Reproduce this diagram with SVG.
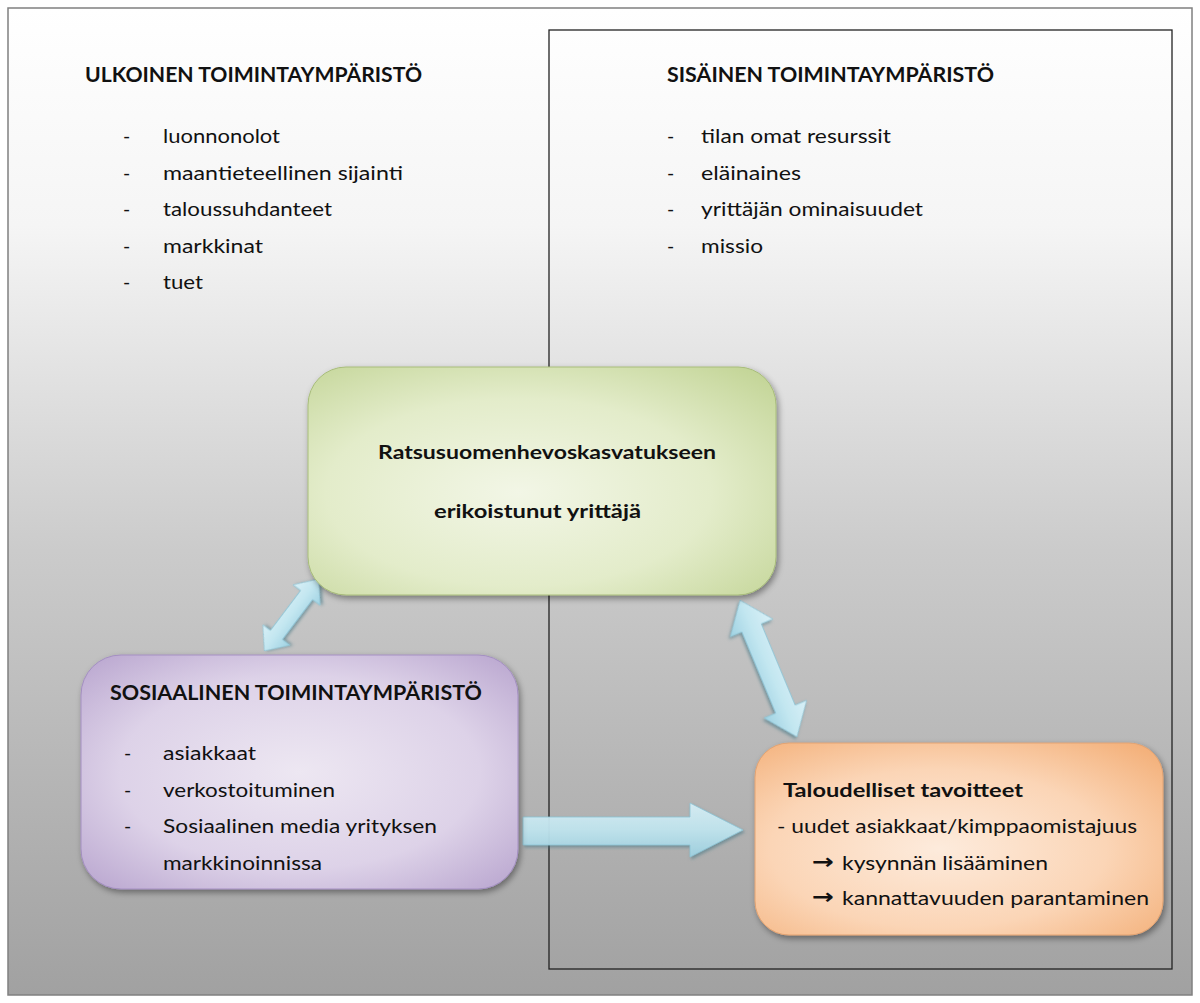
<svg xmlns="http://www.w3.org/2000/svg" width="1200" height="1003" viewBox="0 0 1200 1003">
  <defs>
    <linearGradient id="bg" x1="0" y1="0" x2="0" y2="1">
      <stop offset="0" stop-color="#ffffff"/>
      <stop offset="0.22" stop-color="#f5f5f5"/>
      <stop offset="0.55" stop-color="#cbcbcb"/>
      <stop offset="1" stop-color="#a1a1a1"/>
    </linearGradient>
    <radialGradient id="gGreen" cx="0.45" cy="0.55" r="0.75">
      <stop offset="0" stop-color="#f2f6e6"/>
      <stop offset="0.55" stop-color="#e3ecca"/>
      <stop offset="1" stop-color="#c2d495"/>
    </radialGradient>
    <radialGradient id="gPurple" cx="0.5" cy="0.5" r="0.75">
      <stop offset="0" stop-color="#ede7f2"/>
      <stop offset="0.55" stop-color="#ddd2e8"/>
      <stop offset="1" stop-color="#b29dca"/>
    </radialGradient>
    <radialGradient id="gOrange" cx="0.45" cy="0.55" r="0.75">
      <stop offset="0" stop-color="#fdebdc"/>
      <stop offset="0.55" stop-color="#fbd5b6"/>
      <stop offset="1" stop-color="#f3ae76"/>
    </radialGradient>
    <linearGradient id="gArrow" x1="0" y1="0" x2="0" y2="1">
      <stop offset="0" stop-color="#d9f0f7"/>
      <stop offset="0.5" stop-color="#c2e6f0"/>
      <stop offset="1" stop-color="#9fd2e2"/>
    </linearGradient>
    <filter id="shadow" x="-10%" y="-10%" width="125%" height="130%">
      <feDropShadow dx="2" dy="3" stdDeviation="3" flood-color="#000" flood-opacity="0.4"/>
    </filter>
    <filter id="ashadow" x="-20%" y="-20%" width="150%" height="150%">
      <feDropShadow dx="1.5" dy="2" stdDeviation="1.5" flood-color="#3a6f80" flood-opacity="0.55"/>
    </filter>
  </defs>
  <style>
    .t { font-family: Lato, "Liberation Sans", sans-serif; fill: #111; }
    .title { font-size: 21px; font-weight: bold; }
    .item { font-size: 19.5px; }
    .bold { font-size: 19.5px; font-weight: bold; }
    .arr { font-family: "DejaVu Sans", sans-serif; font-size: 21px; font-weight: bold; fill: #111; }
    .frame { fill: url(#bg); stroke: #808080; stroke-width: 1.5; }
    .inner { fill: none; stroke: #222; stroke-width: 1.3; }
    .arrow { fill: url(#gArrow); stroke: #8cc4d6; stroke-width: 0.8; filter: url(#ashadow); }
  </style>

  <rect x="0" y="0" width="1200" height="1003" fill="#ffffff"/>
  <rect class="frame" x="8" y="8" width="1184" height="987"/>
  <rect id="sisainen-frame" class="inner" x="549" y="30" width="623" height="939"/>

  <g id="ulkoinen">
    <text class="t title" x="85" y="82" textLength="337" lengthAdjust="spacingAndGlyphs">ULKOINEN TOIMINTAYMPÄRISTÖ</text>
    <g class="t item">
      <text x="123" y="143">-</text><text x="163" y="143" textLength="117" lengthAdjust="spacingAndGlyphs">luonnonolot</text>
      <text x="123" y="180">-</text><text x="163" y="180" textLength="240" lengthAdjust="spacingAndGlyphs">maantieteellinen sijainti</text>
      <text x="123" y="216">-</text><text x="163" y="216" textLength="169" lengthAdjust="spacingAndGlyphs">taloussuhdanteet</text>
      <text x="123" y="253">-</text><text x="163" y="253" textLength="100" lengthAdjust="spacingAndGlyphs">markkinat</text>
      <text x="123" y="289">-</text><text x="163" y="289" textLength="40" lengthAdjust="spacingAndGlyphs">tuet</text>
    </g>
  </g>

  <g id="sisainen">
    <text class="t title" x="667" y="82" textLength="327" lengthAdjust="spacingAndGlyphs">SISÄINEN TOIMINTAYMPÄRISTÖ</text>
    <g class="t item">
      <text x="667" y="143">-</text><text x="701" y="143" textLength="190" lengthAdjust="spacingAndGlyphs">tilan omat resurssit</text>
      <text x="667" y="180">-</text><text x="701" y="180" textLength="100" lengthAdjust="spacingAndGlyphs">eläinaines</text>
      <text x="667" y="216">-</text><text x="701" y="216" textLength="222" lengthAdjust="spacingAndGlyphs">yrittäjän ominaisuudet</text>
      <text x="667" y="253">-</text><text x="701" y="253" textLength="62" lengthAdjust="spacingAndGlyphs">missio</text>
    </g>
  </g>

  <g id="connectors">
    <polygon class="arrow" transform="translate(291.5,615) rotate(-52.9)" points="-45,0 -25,-17 -25,-7.5 25,-7.5 25,-17 45,0 25,17 25,7.5 -25,7.5 -25,17"/>
    <polygon class="arrow" transform="translate(768.5,668.5) rotate(67.4)" points="-74,0 -44,-23 -44,-10.5 44,-10.5 44,-23 74,0 44,23 44,10.5 -44,10.5 -44,23"/>
    <polygon class="arrow" fill-opacity="0.92" points="523,817 690,817 690,803 743,830 690,857 690,845 523,845"/>
  </g>

  <g id="yrittaja">
    <rect x="308" y="367" width="468" height="228" rx="38" ry="38" fill="url(#gGreen)" stroke="#a8bd7a" stroke-width="1" filter="url(#shadow)"/>
    <text class="t bold" x="378" y="459" textLength="338" lengthAdjust="spacingAndGlyphs">Ratsusuomenhevoskasvatukseen</text>
    <text class="t bold" x="434" y="518" textLength="207" lengthAdjust="spacingAndGlyphs">erikoistunut yrittäjä</text>
  </g>

  <g id="sosiaalinen">
    <rect x="81" y="655" width="437" height="234" rx="40" ry="40" fill="url(#gPurple)" stroke="#a48fc2" stroke-width="1" filter="url(#shadow)"/>
    <text class="t title" x="110" y="700" textLength="372" lengthAdjust="spacingAndGlyphs">SOSIAALINEN TOIMINTAYMPÄRISTÖ</text>
    <g class="t item">
      <text x="124" y="760">-</text><text x="163" y="760" textLength="93" lengthAdjust="spacingAndGlyphs">asiakkaat</text>
      <text x="124" y="797">-</text><text x="163" y="797" textLength="172" lengthAdjust="spacingAndGlyphs">verkostoituminen</text>
      <text x="124" y="833">-</text><text x="163" y="833" textLength="274" lengthAdjust="spacingAndGlyphs">Sosiaalinen media yrityksen</text>
      <text x="163" y="870" textLength="159" lengthAdjust="spacingAndGlyphs">markkinoinnissa</text>
    </g>
  </g>

  <g id="taloudelliset">
    <rect x="755" y="743" width="408" height="192" rx="34" ry="34" fill="url(#gOrange)" stroke="#e3a372" stroke-width="1" filter="url(#shadow)"/>
    <text class="t bold" x="783" y="797" textLength="240" lengthAdjust="spacingAndGlyphs">Taloudelliset tavoitteet</text>
    <text class="t item" x="777" y="833" textLength="360" lengthAdjust="spacingAndGlyphs">- uudet asiakkaat/kimppaomistajuus</text>
    <text class="arr" x="812" y="869" textLength="22" lengthAdjust="spacingAndGlyphs">→</text>
    <text class="t item" x="842" y="870" textLength="206" lengthAdjust="spacingAndGlyphs">kysynnän lisääminen</text>
    <text class="arr" x="812" y="904" textLength="22" lengthAdjust="spacingAndGlyphs">→</text>
    <text class="t item" x="842" y="905" textLength="307" lengthAdjust="spacingAndGlyphs">kannattavuuden parantaminen</text>
  </g>
</svg>
